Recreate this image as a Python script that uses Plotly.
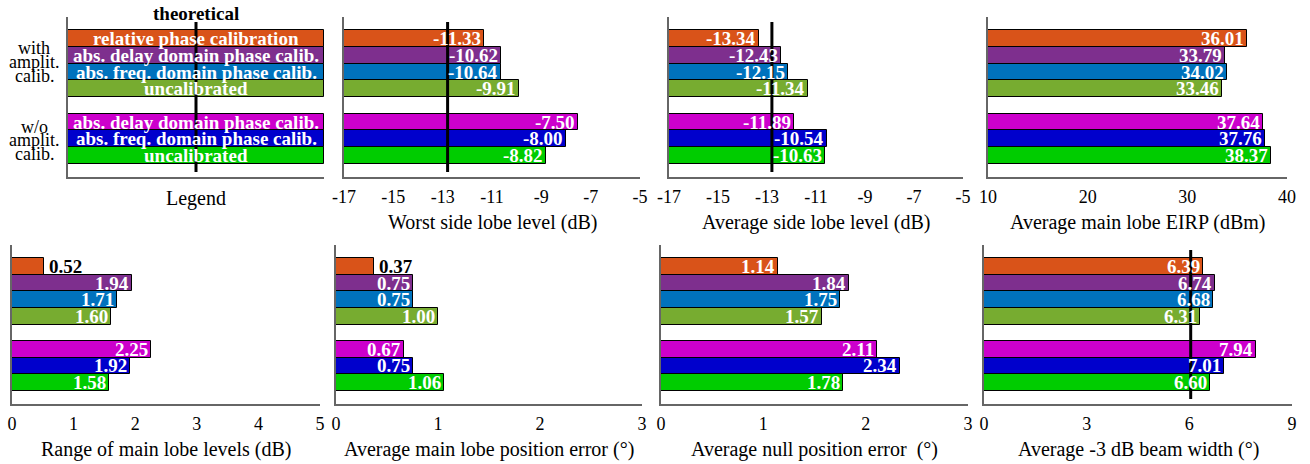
import plotly.graph_objects as go

# ---- data -------------------------------------------------------------
categories = [
    "relative phase calibration",
    "abs. delay domain phase calib.",
    "abs. freq. domain phase calib.",
    "uncalibrated",
    "abs. delay domain phase calib.",
    "abs. freq. domain phase calib.",
    "uncalibrated",
]
slots = [1, 2, 3, 4, 6, 7, 8]
colors = ["#D95319", "#7E2F8E", "#0072BD", "#77AC30", "#CC00CC", "#0000CC", "#00CC00"]

worst_sll = [-11.33, -10.62, -10.64, -9.91, -7.50, -8.00, -8.82]
avg_sll = [-13.34, -12.43, -12.15, -11.34, -11.89, -10.54, -10.63]
eirp = [36.01, 33.79, 34.02, 33.46, 37.64, 37.76, 38.37]
range_ml = [0.52, 1.94, 1.71, 1.60, 2.25, 1.92, 1.58]
ml_pos_err = [0.37, 0.75, 0.75, 1.00, 0.67, 0.75, 1.06]
null_err = [1.14, 1.84, 1.75, 1.57, 2.11, 2.34, 1.78]
beam_width = [6.39, 6.74, 6.68, 6.31, 7.94, 7.01, 6.60]

sll_ticks = [-17, -15, -13, -11, -9, -7, -5]
eirp_ticks = [10, 20, 30, 40]
range_ticks = [0, 1, 2, 3, 4, 5]
err_ticks = [0, 1, 2, 3]
bw_ticks = [0, 3, 6, 9]

theory_sll = -12.8
theory_bw = 6.04

W, H = 1310, 464
SERIF = "Liberation Serif"

# panels: (values, x range, tick values, title, theoretical line, pixel box)
panels = [
    (None, [0, 1], [], "Legend", 0.5, (68, 324, 17, 177)),
    (worst_sll, [-17, -5], sll_ticks, "Worst side lobe level (dB)", theory_sll, (344, 640, 17, 177)),
    (avg_sll, [-17, -5], sll_ticks, "Average side lobe level (dB)", theory_sll, (669, 963, 17, 177)),
    (eirp, [10, 40], eirp_ticks, "Average main lobe EIRP (dBm)", None, (988, 1287, 17, 177)),
    (range_ml, [0, 5], range_ticks, "Range of main lobe levels (dB)", None, (12, 320, 245, 404)),
    (ml_pos_err, [0, 3], err_ticks, "Average main lobe position error (°)", None, (336, 642, 245, 404)),
    (null_err, [0, 3], err_ticks, "Average null position error  (°)", None, (661, 968, 245, 404)),
    (beam_width, [0, 9], bw_ticks, "Average -3 dB beam width (°)", theory_bw, (984, 1292, 245, 404)),
]

fig = go.Figure()
annotations = []
shapes = []

for i, (vals, xr, tv, title, theo, box) in enumerate(panels):
    n = i + 1
    xa = "x" if n == 1 else f"x{n}"
    ya = "y" if n == 1 else f"y{n}"
    x0, x1, yt, yb = box
    xmin, xmax = xr
    bar_vals = vals if vals is not None else [xmax] * len(slots)

    fig.add_trace(go.Bar(
        x=[v - xmin for v in bar_vals], base=xmin, y=slots, orientation="h",
        width=1.0, marker=dict(color=colors, line=dict(color="black", width=1)),
        xaxis=xa, yaxis=ya, hoverinfo="skip", showlegend=False,
    ))

    fig.update_layout(**{
        ("xaxis" if n == 1 else f"xaxis{n}"): dict(
            domain=[x0 / W, x1 / W], range=xr, anchor=ya,
            tickmode="array", tickvals=tv, ticktext=[str(t) for t in tv],
            showticklabels=bool(tv), automargin=False,
            # invisible ticks, used only to push the labels a little lower
            ticks="outside", ticklen=3, tickcolor="rgba(0,0,0,0)",
            showline=True, linecolor="#666666", linewidth=1.5,
            showgrid=False, zeroline=False, fixedrange=True,
            tickfont=dict(family=SERIF, size=18, color="black"),
        ),
        ("yaxis" if n == 1 else f"yaxis{n}"): dict(
            domain=[1 - yb / H, 1 - yt / H], range=[9.3, -0.3], anchor=xa,
            showticklabels=False, ticks="", showline=True, automargin=False,
            linecolor="#666666", linewidth=1.5, showgrid=False,
            zeroline=False, fixedrange=True,
        ),
    })

    if theo is not None:
        shapes.append(dict(type="line", xref=xa, yref=ya, x0=theo, x1=theo,
                           y0=0, y1=9, line=dict(color="black", width=3), layer="above"))

    # axis title
    ty = 198 if n == 1 else (222 if yt < 100 else 449)
    annotations.append(dict(text=title, xref="paper", yref="paper",
                            x=(x0 + x1) / 2 / W, y=1 - ty / H, showarrow=False,
                            xanchor="center", yanchor="middle",
                            font=dict(family=SERIF, size=20, color="black")))

    if vals is None:
        # legend panel: category names centred in the bars
        for s, c in zip(slots, categories):
            annotations.append(dict(text=f"<b>{c}</b>", xref=xa, yref=ya, x=0.5, y=s,
                                    showarrow=False, xanchor="center", yanchor="middle",
                                    font=dict(family=SERIF, size=19, color="white")))
        annotations.append(dict(text="<b>theoretical</b>", xref=xa, yref="paper", x=0.5,
                                y=1 - 13 / H, showarrow=False, xanchor="center",
                                yanchor="middle",
                                font=dict(family=SERIF, size=19, color="black")))
        continue

    px_per_unit = (x1 - x0) / (xmax - xmin)
    for s, v in zip(slots, vals):
        inside = (v - xmin) * px_per_unit > 45
        annotations.append(dict(
            text=f"<b>{v:.2f}</b>", xref=xa, yref=ya, x=v, y=s, showarrow=False,
            xanchor="right" if inside else "left", yanchor="middle",
            xshift=-1 if inside else 3,
            font=dict(family=SERIF, size=19, color="white" if inside else "black"),
        ))

# group labels to the left of the legend panel
group_lines = [("with", 48), ("amplit.", 62), ("calib.", 76),
               ("w/o", 127), ("amplit.", 140), ("calib.", 154)]
for txt, py in group_lines:
    annotations.append(dict(text=txt, xref="paper", yref="paper", x=34 / W, y=1 - py / H,
                            showarrow=False, xanchor="center", yanchor="middle",
                            font=dict(family=SERIF, size=18, color="black")))

fig.update_layout(
    width=W, height=H, margin=dict(l=0, r=0, t=0, b=0, autoexpand=False),
    paper_bgcolor="white", plot_bgcolor="white",
    annotations=annotations, shapes=shapes, bargap=0,
)

fig.write_html("out.html")
